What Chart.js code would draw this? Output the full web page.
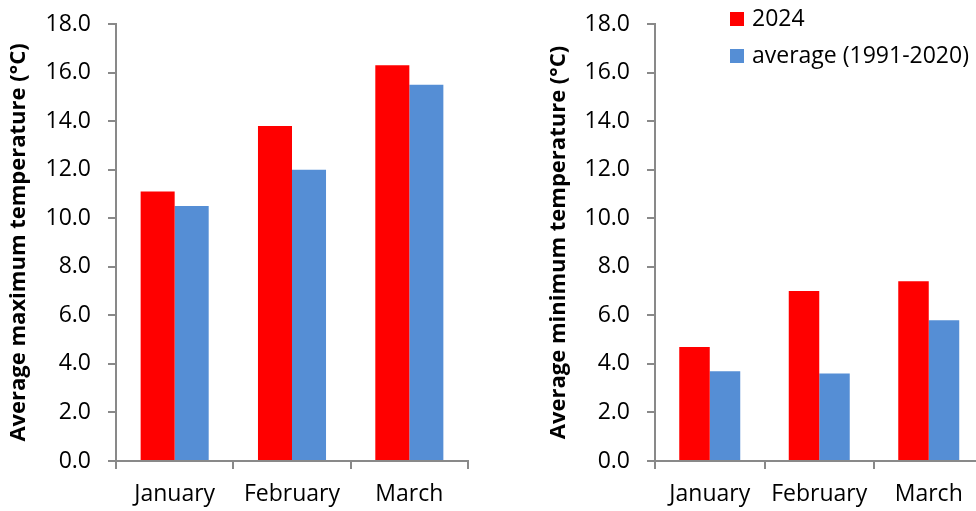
<!DOCTYPE html>
<html>
<head>
<meta charset="utf-8">
<script src="https://cdn.jsdelivr.net/npm/chart.js@4.4.1/dist/chart.umd.min.js"></script>
<style>
  html, body { margin: 0; padding: 0; background: #fff; }
  #wrap { position: relative; width: 976px; height: 511px; overflow: hidden; }
  #c1 { position: absolute; left: 0; top: 0; }
  #c2 { position: absolute; left: 540px; top: 0; }
  .leg { position: absolute; left: 730px; font-family: "Open Sans", sans-serif; font-size: 23px; color: #000; white-space: nowrap; }
  .leg span.sw { position: absolute; left: 0; width: 14px; height: 14px; }
  .leg span.tx { position: absolute; left: 22px; line-height: 1; }
</style>
</head>
<body>
<div id="wrap">
  <canvas id="c1" width="500" height="511"></canvas>
  <canvas id="c2" width="460" height="511"></canvas>
  <div class="leg" style="top:12px;"><span class="sw" style="background:#FF0000;top:0"></span><span class="tx" style="top:-6px">2024</span></div>
  <div class="leg" style="top:49px;"><span class="sw" style="background:#558ED5;top:0"></span><span class="tx" style="top:-6px">average (1991-2020)</span></div>
</div>
<script>
const months = ["January", "February", "March"];
const seriesNames = ["2024", "average (1991-2020)"];
const maxTemp2024 = [11.1, 13.8, 16.3];
const maxTempAvg = [10.5, 12.0, 15.5];
const minTemp2024 = [4.7, 7.0, 7.4];
const minTempAvg = [3.7, 3.6, 5.8];
const yTicksMin = 0, yTicksMax = 18, yStep = 2;

const FONT = '"Open Sans", sans-serif';
const AXIS = '#898989';

function makeChart(id, a, b, title, yWidth, padRight, catPct) {
  return new Chart(document.getElementById(id), {
    type: 'bar',
    data: {
      labels: months,
      datasets: [
        { label: seriesNames[0], data: a, backgroundColor: '#FF0000', borderWidth: 0 },
        { label: seriesNames[1], data: b, backgroundColor: '#558ED5', borderWidth: 0 }
      ]
    },
    options: {
      responsive: false,
      animation: false,
      events: [],
      layout: { padding: { top: 24, right: padRight, left: 0, bottom: 0 } },
      plugins: { legend: { display: false }, tooltip: { enabled: false } },
      datasets: { bar: { categoryPercentage: catPct, barPercentage: 1.0 } },
      scales: {
        x: {
          offset: true,
          grid: { offset: true, drawOnChartArea: false, drawTicks: true, tickLength: 8, color: AXIS, lineWidth: 2 },
          border: { color: AXIS, width: 2 },
          ticks: { color: '#000', font: { family: FONT, size: 23 }, padding: 12, maxRotation: 0 },
          afterFit: s => { s.height = 50; s.paddingLeft = 0; s.paddingRight = 0; }
        },
        y: {
          min: yTicksMin, max: yTicksMax,
          grid: { drawOnChartArea: false, drawTicks: true, tickLength: 8, color: AXIS, lineWidth: 2 },
          border: { color: AXIS, width: 2 },
          ticks: { stepSize: yStep, color: '#000', font: { family: FONT, size: 23 }, padding: 17,
                   callback: v => Number(v).toFixed(1) },
          title: { display: true, text: title, color: '#000', font: { family: FONT, size: 22, weight: 'bold' }, padding: { top: 6, bottom: 0 } },
          afterFit: s => { s.width = yWidth; s.paddingTop = 0; s.paddingBottom = 0; }
        }
      }
    }
  });
}

makeChart('c1', maxTemp2024, maxTempAvg, 'Average maximum temperature (°C)', 116, 32, 0.58);
makeChart('c2', minTemp2024, minTempAvg, 'Average minimum temperature (°C)', 115, 16.5, 0.557);
</script>
</body>
</html>
